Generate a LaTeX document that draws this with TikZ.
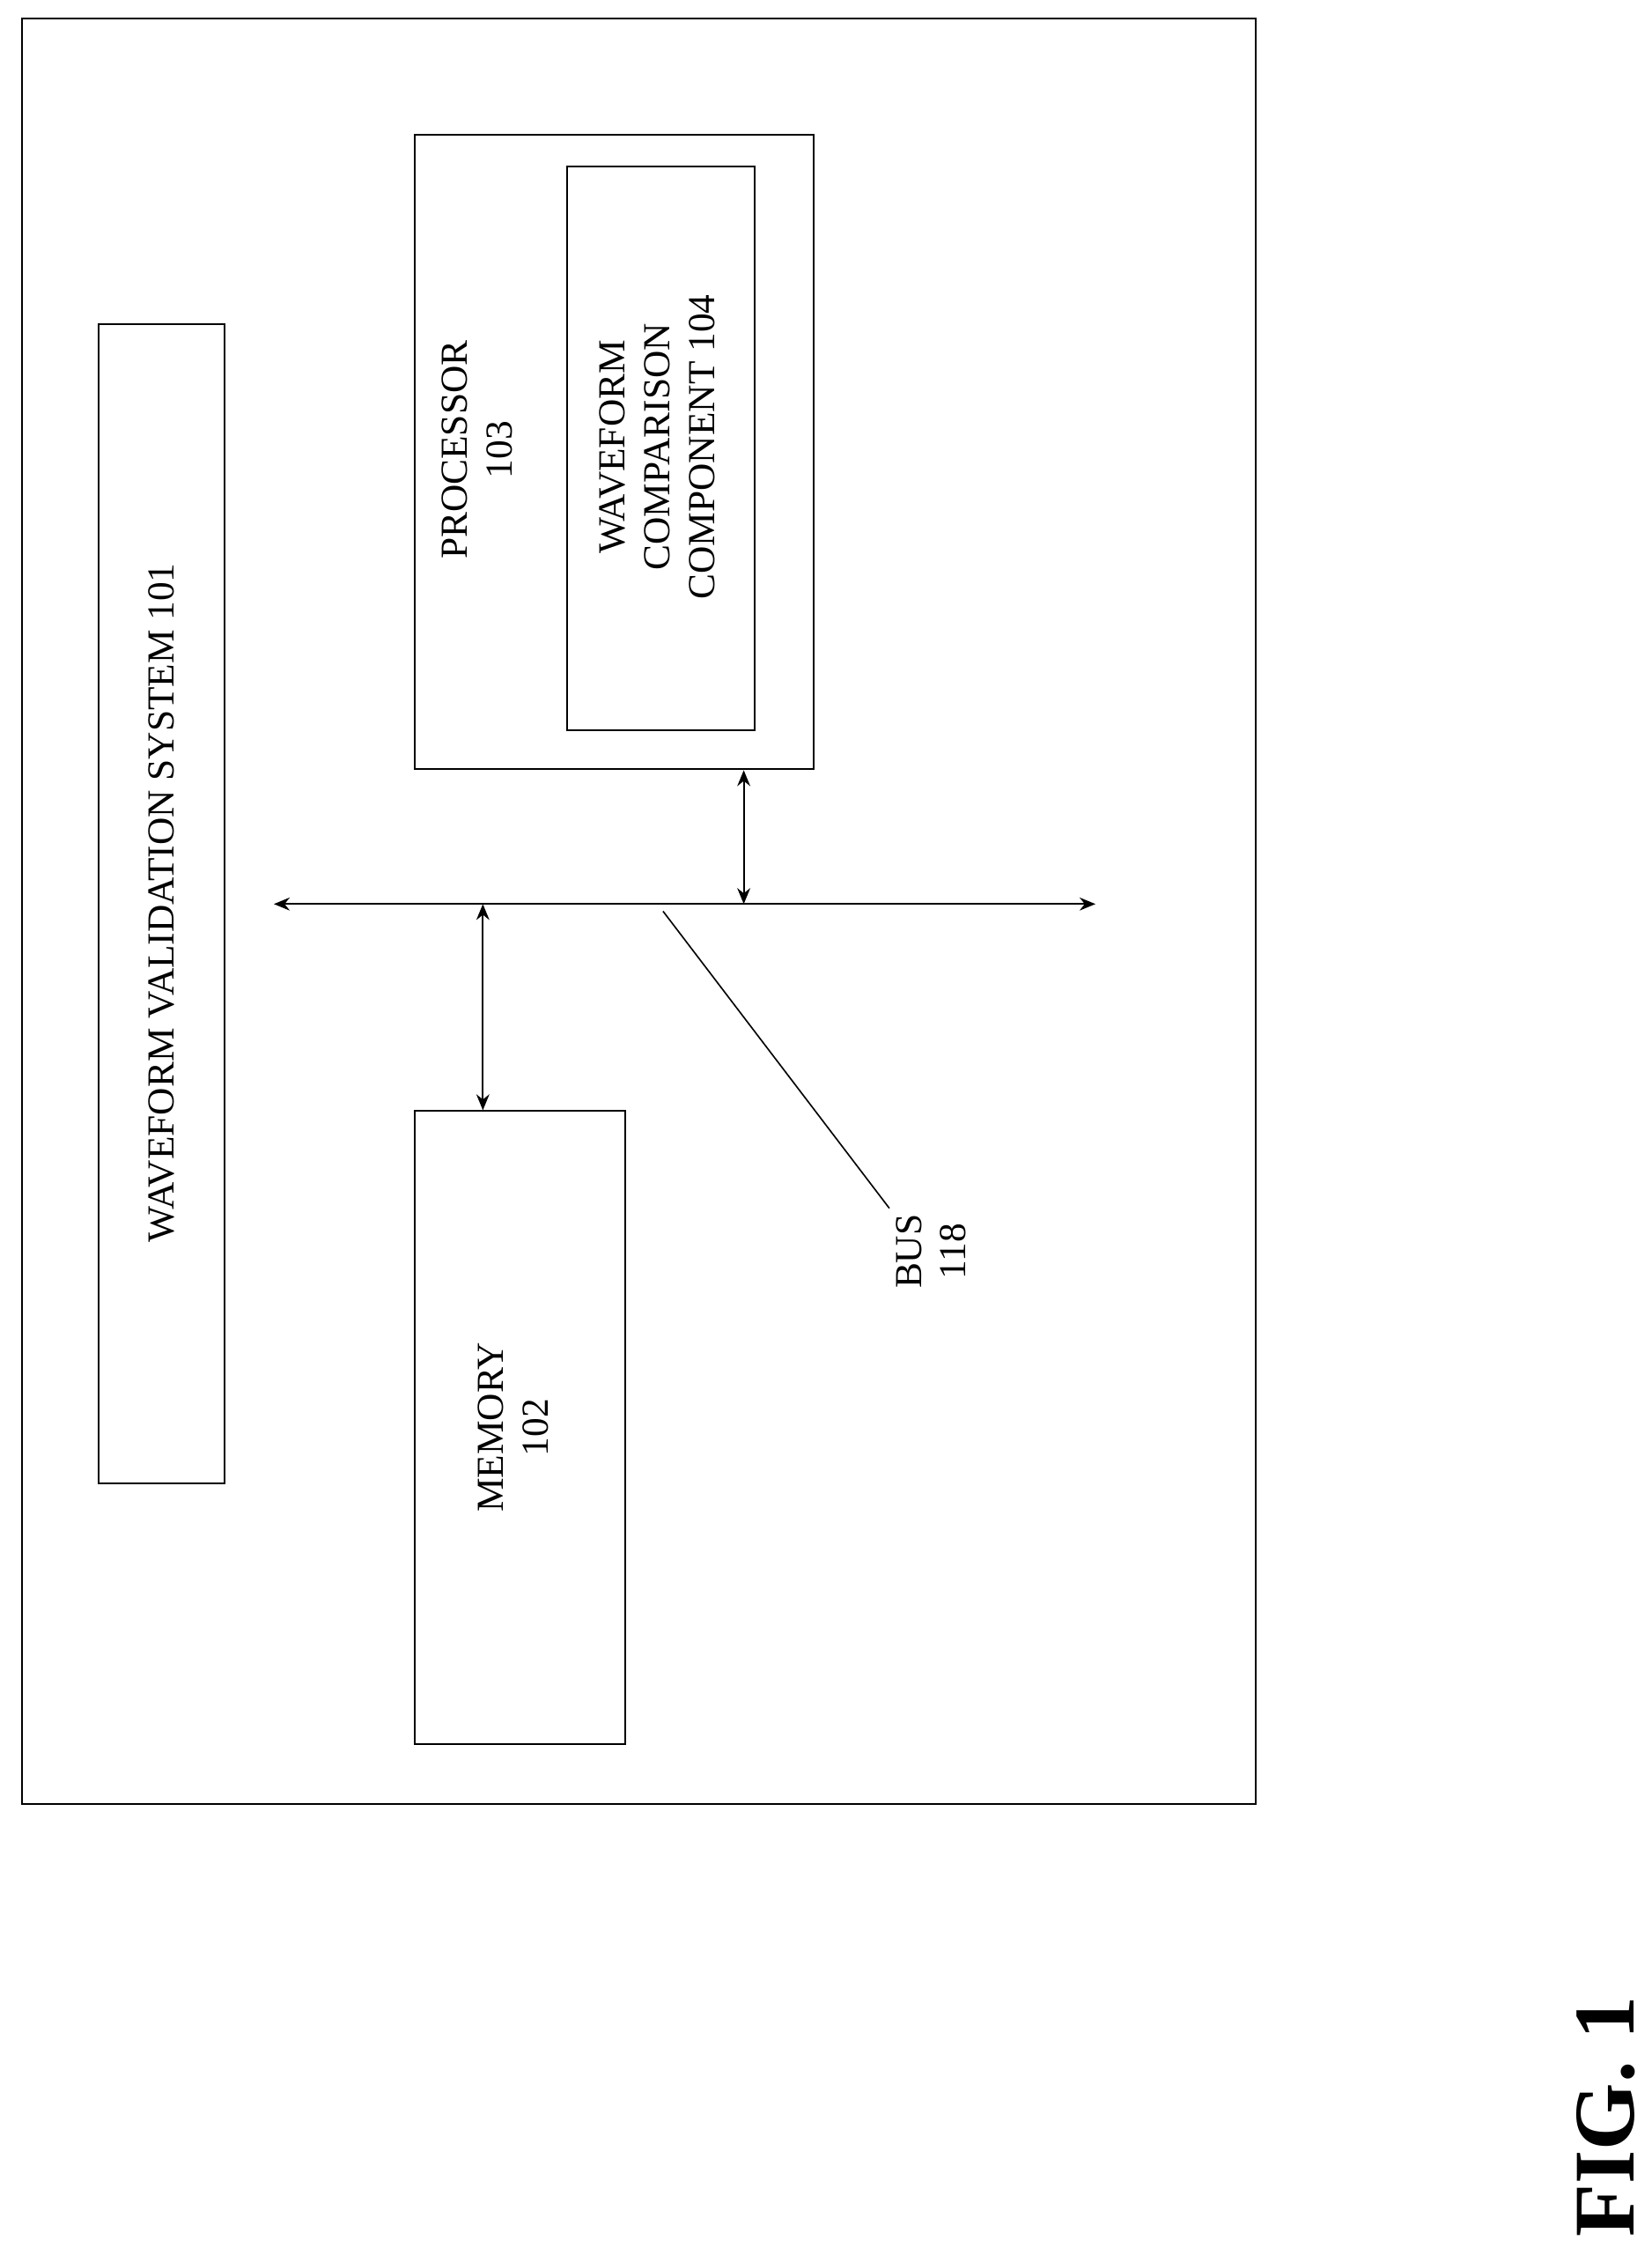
\documentclass[tikz,border=0pt]{standalone}
\usepackage{fontspec}
\setmainfont{Liberation Serif}
\usetikzlibrary{arrows.meta}
\begin{document}
\begin{tikzpicture}[x=1pt,y=-1pt,
  box/.style={draw,line width=1.2pt},
  lbl/.style={rotate=90,align=center,font=\fontsize{26.5}{31}\selectfont},
  arr/.style={line width=1.3pt,{Stealth[length=11pt,width=9pt]}-{Stealth[length=11pt,width=9pt]}}]
\useasboundingbox (0,0) rectangle (1146,1564);
\draw[box] (15,13) rectangle (871,1251);
\node[box,minimum width=87pt,minimum height=804pt,anchor=north west] (sys) at (68,224) {};
\node[lbl] (syst) at (112,626) {WAVEFORM VALIDATION SYSTEM 101};
\node[box,minimum width=277pt,minimum height=440pt,anchor=north west] (proc) at (287,93) {};
\node[lbl] (proct) at (331,312) {PROCESSOR\\103};
\node[box,minimum width=130pt,minimum height=391pt,anchor=north west] (wcc) at (393,115) {};
\node[lbl] (wcct) at (456,310) {WAVEFORM\\COMPARISON\\COMPONENT 104};
\node[box,minimum width=146pt,minimum height=439pt,anchor=north west] (mem) at (287,770) {};
\node[lbl] (memt) at (356,990) {MEMORY\\102};
\coordinate (bl) at (190,627);
\coordinate (br) at (760,627);
\draw[arr] (bl) -- (br);
\coordinate (m1) at (335,627);
\coordinate (p1) at (516,627);
\draw[arr] (m1) -- (mem.north west -| m1);
\draw[arr] (p1) -- (proc.south west -| p1);
\node[lbl] (bus) at (646,868) {BUS\\118};
\coordinate (lb) at (460,632);
\coordinate (le) at (617,838);
\draw[line width=1pt] (lb) -- (le);
\node[rotate=90,font=\bfseries\fontsize{60}{66}\selectfont] (fig) at (1114,1468) {FIG. 1};
\end{tikzpicture}
\end{document}
